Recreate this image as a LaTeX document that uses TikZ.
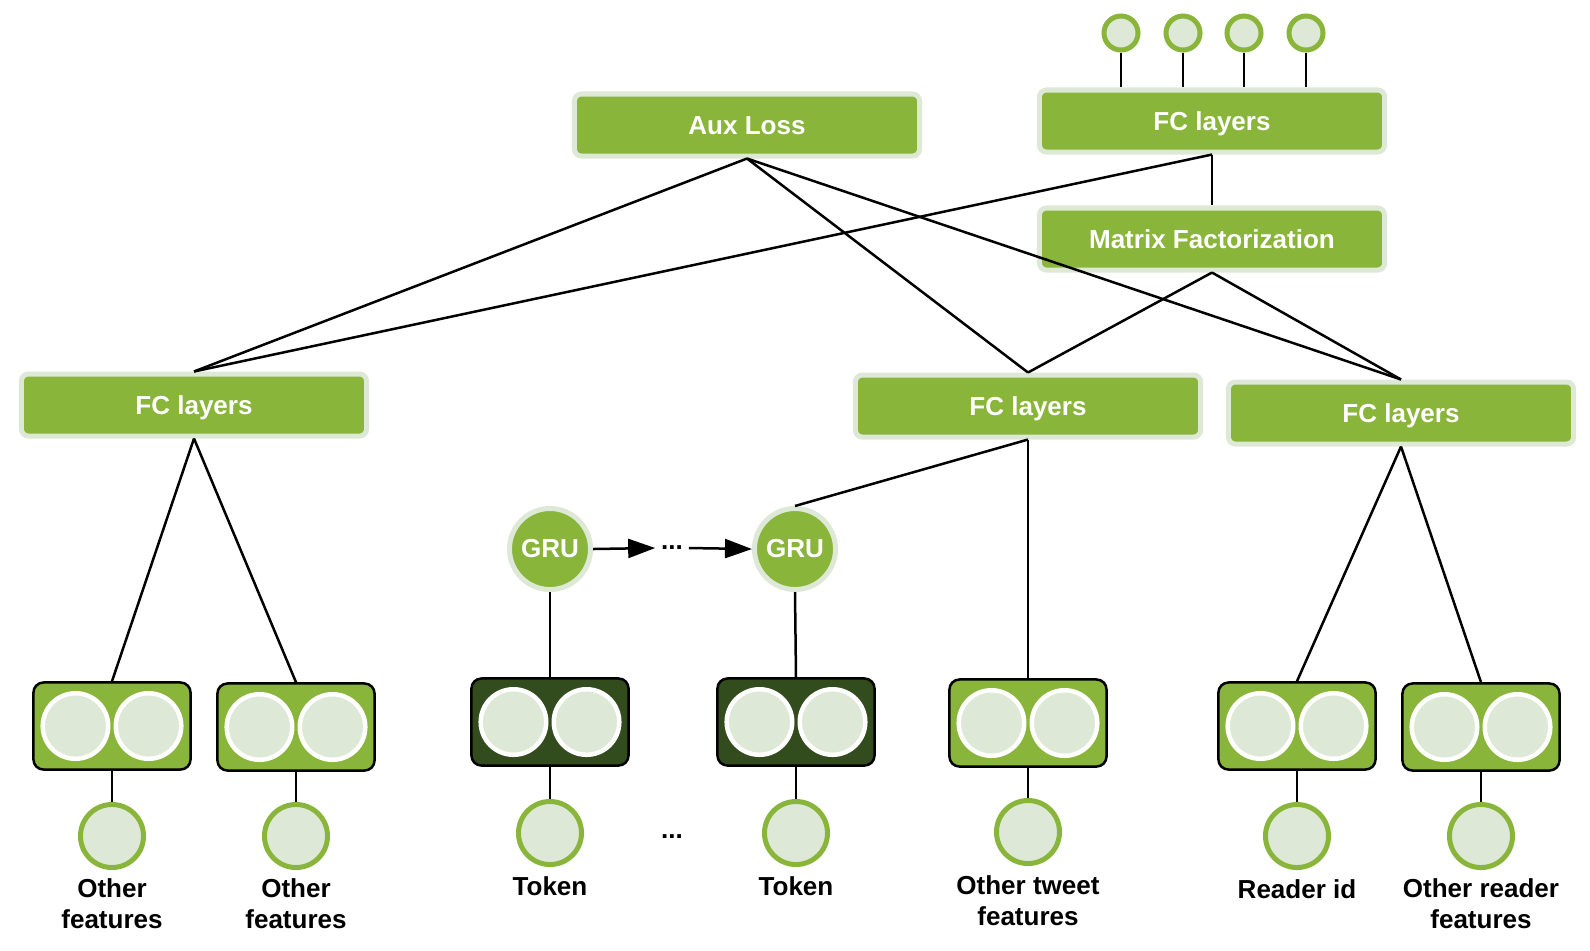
\documentclass[tikz,border=0pt]{standalone}
\usepackage{fontspec}
\setmainfont{Liberation Sans}
\usepackage{xcolor}
\usepackage{tikz}
\usetikzlibrary{arrows.meta,positioning}
\definecolor{leaf}{HTML}{88B53A}
\definecolor{halo}{HTML}{DDE9D6}
\definecolor{moss}{HTML}{324C1E}
\definecolor{pale}{HTML}{DDE9D6}

\begin{document}
\begin{tikzpicture}[
      x=0.01cm, y=-0.01cm,
      every node/.style={font=\fontsize{7.4}{8.8}\selectfont\bfseries},
      fcbox/.style={draw=halo,line width=0.05cm,fill=leaf,rounded corners=0.07cm,
                    minimum width=3.45cm,minimum height=0.62cm,text=white,
                    text height=0.19cm,text depth=0pt},
      gru/.style={circle,draw=halo,line width=0.05cm,fill=leaf,minimum size=0.81cm,
                  inner sep=0pt,text=white},
      embbox/.style={draw=black,line width=0.025cm,fill=leaf,rounded corners=0.1cm,
                     minimum width=1.57cm,minimum height=0.87cm},
      tokbox/.style={embbox,fill=moss},
      unit/.style={circle,draw=white,line width=0.045cm,fill=pale,minimum size=0.655cm,inner sep=0pt},
      feat/.style={circle,draw=leaf,line width=0.05cm,fill=pale,minimum size=0.63cm,inner sep=0pt},
      outc/.style={feat,minimum size=0.34cm},
      wire/.style={line width=0.025cm},
      arr/.style={wire,-{Triangle[length=0.27cm,width=0.19cm]}},
  ]
    \useasboundingbox (0,0) rectangle (1590,950);

    % upper part
    \node[fcbox] (aux) at (747,125) {Aux Loss};
    \node[fcbox] (topfc) at (1212,121) {FC layers};
    \node[fcbox] (mf) at (1212,239) {Matrix Factorization};
    \foreach \i/\x in {1/1121,2/1183,3/1244,4/1306} {
      \node[outc] (o\i) at (\x,33) {};
      \draw[wire] (o\i.south) -- (o\i.south |- topfc.north);
    }

    \node[fcbox] (fcl) at (194,405) {FC layers};
    \node[fcbox] (fcm) at (1028,406) {FC layers};
    \node[fcbox] (fcr) at (1401,413) {FC layers};

    \draw[wire] (aux.south) -- (fcl.north);
    \draw[wire] (aux.south) -- (fcm.north);
    \draw[wire] (aux.south) -- (fcr.north);
    \draw[wire] (topfc.south) -- (fcl.north);
    \draw[wire] (topfc.south) -- (mf.north);
    \draw[wire] (mf.south) -- (fcm.north);
    \draw[wire] (mf.south) -- (fcr.north);

    % recurrent part
    \node[gru] (g1) at (550,549) {GRU};
    \node[gru] (g2) at (795,549) {GRU};
    \node[inner sep=1.5pt] (gdots) at (672,548) {...};
    \draw[arr] (g1.east) -- (gdots.west);
    \draw[arr] (gdots.east) -- (g2.west);

    % embeddings and inputs
    \node[embbox] (e1) at (112,726) {};
    \node[embbox] (e2) at (296,727) {};
    \node[tokbox] (e3) at (550,722) {};
    \node[tokbox] (e4) at (796,722) {};
    \node[embbox] (e5) at (1028,723) {};
    \node[embbox] (e6) at (1297,726) {};
    \node[embbox] (e7) at (1481,727) {};
    \foreach \b in {e1,e2,e3,e4,e5,e6,e7} {
      \node[unit,xshift=-0.365cm] (\b-l) at (\b) {};
      \node[unit,xshift=0.365cm] (\b-r) at (\b) {};
    }

    \node[feat] (f1) at (112,836) {};
    \node[feat] (f2) at (296,836) {};
    \node[feat] (f3) at (550,833) {};
    \node[feat] (f4) at (796,833) {};
    \node[feat] (f5) at (1028,832) {};
    \node[feat] (f6) at (1297,836) {};
    \node[feat] (f7) at (1481,836) {};
    \foreach \i in {1,...,7}
      \draw[wire] (e\i.south) -- (f\i.north);
    \node (fdots) at (672,837) {...};

    \node[align=center] (t1) at (112,904) {Other\\features};
    \node[align=center] (t2) at (296,904) {Other\\features};
    \node (t3) at (550,886) {Token};
    \node (t4) at (796,886) {Token};
    \node[align=center] (t5) at (1028,901) {Other tweet\\features};
    \node (t6) at (1297,889) {Reader id};
    \node[align=center] (t7) at (1481,904) {Other reader\\features};

    \draw[wire] (fcl.south) -- (e1.north);
    \draw[wire] (fcl.south) -- (e2.north);
    \draw[wire] (g1.south) -- (e3.north);
    \draw[wire] (g2.south) -- (e4.north);
    \draw[wire] (fcm.south) -- (g2.north);
    \draw[wire] (fcm.south) -- (e5.north);
    \draw[wire] (fcr.south) -- (e6.north);
    \draw[wire] (fcr.south) -- (e7.north);
\end{tikzpicture}
\end{document}
